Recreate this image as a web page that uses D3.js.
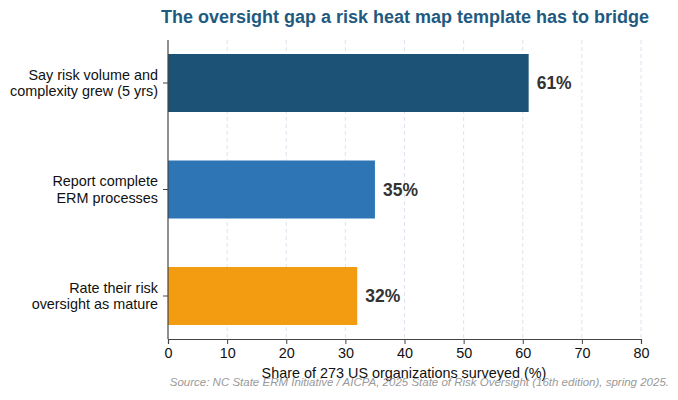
<!DOCTYPE html>
<html>
<head>
<meta charset="utf-8">
<script src="https://cdn.jsdelivr.net/npm/d3@7"></script>
<style>
  body { margin: 0; background: #fff; }
  svg { font-family: "Liberation Sans", Arial, sans-serif; }
</style>
</head>
<body>
<div id="chart"></div>
<script>
const categories = [
  ["Say risk volume and", "complexity grew (5 yrs)"],
  ["Report complete", "ERM processes"],
  ["Rate their risk", "oversight as mature"]
];
const values = [61, 35, 32];
const colors = ["#1c5276", "#2e75b6", "#f39c12"];
const xTicks = [0, 10, 20, 30, 40, 50, 60, 70, 80];

const width = 678, height = 400;
const svg = d3.select("#chart").append("svg")
    .attr("width", width)
    .attr("height", height);

const x = d3.scaleLinear().domain([0, 80]).range([168, 641]);
// bar centres, matplotlib-style positions
const y = d3.scaleLinear().domain([0, 2]).range([83, 296]);
const barH = 58;
const plotTop = 40, plotBottom = 339;

// grid
svg.append("g")
    .selectAll("line")
    .data(xTicks.slice(1))
    .join("line")
    .attr("x1", d => x(d)).attr("x2", d => x(d))
    .attr("y1", plotTop).attr("y2", plotBottom)
    .attr("stroke", "#dde3ee")
    .attr("stroke-dasharray", "4,3")
    .attr("stroke-width", 1);

// bars
svg.append("g")
    .selectAll("rect")
    .data(values)
    .join("rect")
    .attr("x", x(0))
    .attr("y", (d, i) => y(i) - barH / 2)
    .attr("width", d => x(d) - x(0))
    .attr("height", barH)
    .attr("fill", (d, i) => colors[i]);

// value labels
svg.append("g")
    .selectAll("text")
    .data(values)
    .join("text")
    .attr("x", d => x(d) + 8)
    .attr("y", (d, i) => y(i))
    .attr("dy", "0.35em")
    .attr("font-size", 17.5)
    .attr("font-weight", "bold")
    .attr("fill", "#333")
    .text(d => d + "%");

// x axis
const xAxis = svg.append("g")
    .attr("transform", `translate(0,${plotBottom})`)
    .call(d3.axisBottom(x).tickValues(xTicks).tickSize(5).tickPadding(4));
xAxis.select(".domain").attr("stroke", "#444").attr("stroke-width", 1.2);
xAxis.selectAll(".tick line").attr("stroke", "#444");
xAxis.selectAll(".tick text")
    .attr("font-size", 14.4)
    .attr("fill", "#111")
    .attr("font-family", "Liberation Sans, Arial, sans-serif");

// left spine
svg.append("line")
    .attr("x1", x(0)).attr("x2", x(0))
    .attr("y1", plotTop).attr("y2", plotBottom)
    .attr("stroke", "#444").attr("stroke-width", 1.2);

// y ticks and labels
const yg = svg.append("g")
    .selectAll("g")
    .data(categories)
    .join("g")
    .attr("transform", (d, i) => `translate(0,${y(i)})`);
yg.append("line")
    .attr("x1", x(0) - 5).attr("x2", x(0))
    .attr("stroke", "#444");
yg.append("text")
    .attr("x", x(0) - 10)
    .attr("text-anchor", "end")
    .attr("font-size", 14.4)
    .attr("fill", "#111")
    .selectAll("tspan")
    .data(d => d)
    .join("tspan")
    .attr("x", x(0) - 10)
    .attr("y", (d, i) => (i - 0.5) * 16.5)
    .attr("dy", "0.35em")
    .text(d => d);

// title
svg.append("text")
    .attr("x", 405)
    .attr("y", 23)
    .attr("text-anchor", "middle")
    .attr("font-size", 18)
    .attr("font-weight", "bold")
    .attr("fill", "#1f5a80")
    .text("The oversight gap a risk heat map template has to bridge");

// x label
svg.append("text")
    .attr("x", 404)
    .attr("y", 378)
    .attr("text-anchor", "middle")
    .attr("font-size", 14.4)
    .attr("fill", "#111")
    .text("Share of 273 US organizations surveyed (%)");

// source
svg.append("text")
    .attr("x", 669)
    .attr("y", 386)
    .attr("text-anchor", "end")
    .attr("font-size", 11.5)
    .attr("font-style", "italic")
    .attr("fill", "#999")
    .text("Source: NC State ERM Initiative / AICPA, 2025 State of Risk Oversight (16th edition), spring 2025.");
</script>
</body>
</html>
